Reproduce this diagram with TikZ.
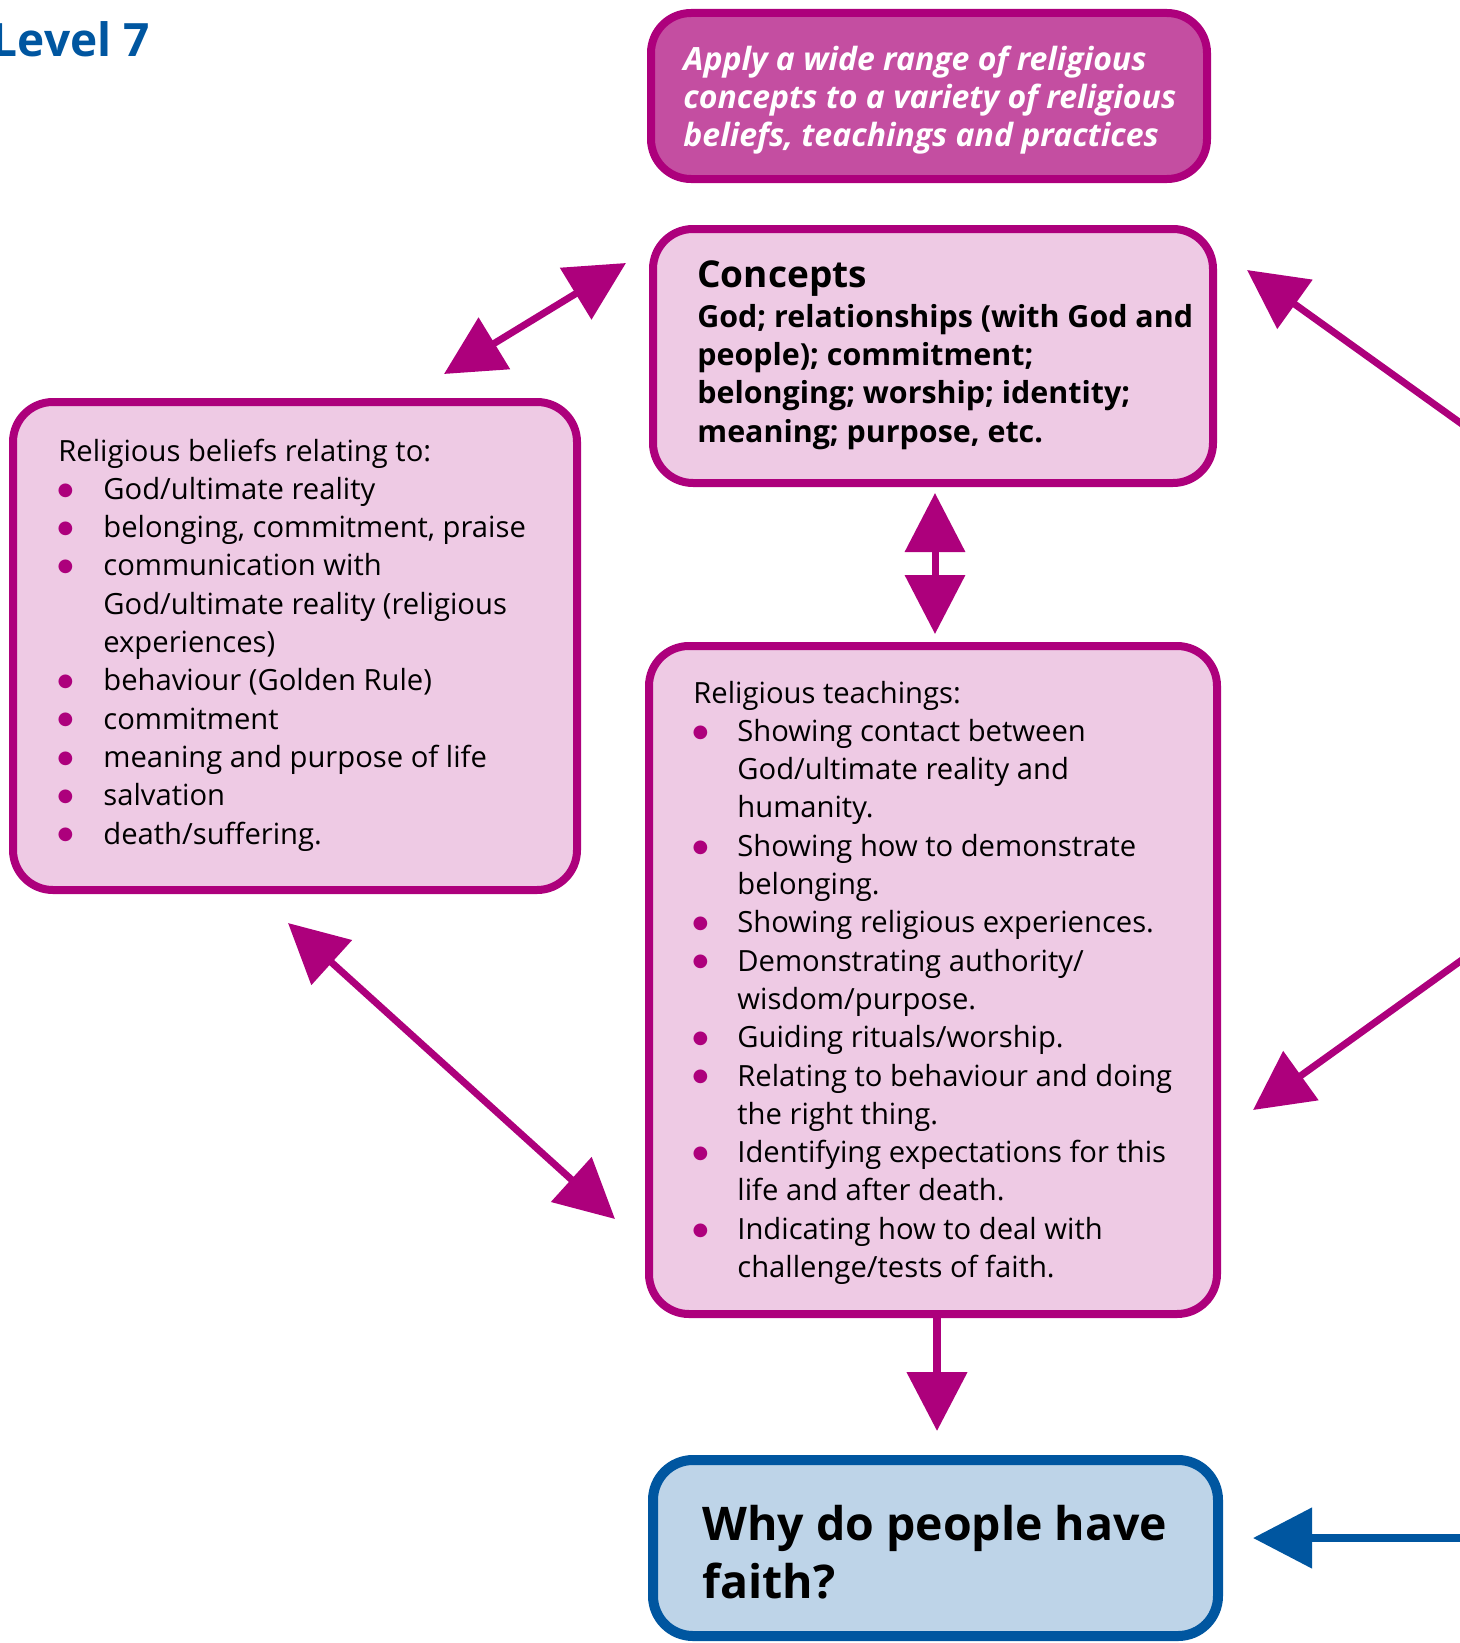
\documentclass[tikz,border=0pt]{standalone}
\usepackage{fontspec}
\setmainfont{Open Sans}
\newfontfamily\symfont{DejaVu Sans}
\usetikzlibrary{arrows.meta}
\definecolor{mag}{HTML}{AD007C}
\definecolor{topfill}{HTML}{C44EA1}
\definecolor{pinkfill}{HTML}{EECAE4}
\definecolor{bluedark}{HTML}{0056A0}
\definecolor{bluefill}{HTML}{BED4E8}
\newlength\itemind
\newcommand\bulletmark{\raisebox{2.1pt}{\symfont\fontsize{9}{9}\selectfont\textcolor{mag}{●}}}
\newcommand\bitem[1]{\par\noindent\hangindent=\itemind\hangafter=1\makebox[\itemind][l]{\makebox[7pt][c]{\bulletmark}}#1}
\tikzset{
  box/.style={draw=mag, line width=4pt, rounded corners=20pt, inner sep=0pt, fill=pinkfill},
  txt/.style={anchor=base west, inner sep=0pt},
  arr/.style={draw=mag, line width=3.5pt, -{Triangle[length=29.5pt,width=29.5pt]}},
  darr/.style={draw=mag, line width=3.5pt, {Triangle[length=29.5pt,width=29.5pt]}-{Triangle[length=29.5pt,width=29.5pt]}}
}
\begin{document}
\begin{tikzpicture}[x=0.5pt,y=-0.5pt]
\useasboundingbox (0,0) rectangle (1460,1643);
% boxes
\node[box, fill=topfill, minimum width=278pt, minimum height=83pt] (aim) at (929,96) {};
\node[box, minimum width=280pt, minimum height=127pt] (concepts) at (933,356) {};
\node[box, minimum width=282pt, minimum height=244pt] (beliefs) at (295,646) {};
\node[box, minimum width=284pt, minimum height=334pt] (teach) at (933,980) {};
\node[box, draw=bluedark, fill=bluefill, line width=5pt, minimum width=282.5pt, minimum height=88pt] (why) at (935.5,1548) {};
% texts
\node[anchor=base east, inner sep=0pt, text=bluedark] (level) at (150,57) {\fontsize{23}{28}\selectfont\bfseries Level 7};
\node[txt, text=white] (aimtext) at (683,71) {\vtop{\hsize=340pt\fontsize{16}{19}\selectfont\bfseries\itshape\noindent Apply a wide range of religious\\concepts to a variety of religious\\beliefs, teachings and practices}};
\node[txt] (contxt) at (697,287) {\vtop{\hsize=360pt\bfseries\fontsize{18.5}{22}\selectfont\noindent Concepts\par\fontsize{15.2}{19.15}\selectfont\vskip0.9pt\noindent God; relationships (with God and\\people); commitment;\\belonging; worship; identity;\\meaning; purpose, etc.}};
\node[txt] (beltxt) at (58,461) {\vtop{\hsize=320pt\fontsize{14.6}{19.15}\selectfont\setlength\itemind{22.5pt}\noindent Religious beliefs relating to:%
\bitem{God/ultimate reality}%
\bitem{belonging, commitment, praise}%
\bitem{communication with\\God/ultimate reality (religious\\experiences)}%
\bitem{behaviour (Golden Rule)}%
\bitem{commitment}%
\bitem{meaning and purpose of life}%
\bitem{salvation}%
\bitem{death/suffering.}}};
\node[txt] (teachtxt) at (693,703) {\vtop{\hsize=340pt\fontsize{14.6}{19.15}\selectfont\setlength\itemind{22pt}\noindent Religious teachings:%
\bitem{Showing contact between\\God/ultimate reality and\\humanity.}%
\bitem{Showing how to demonstrate\\belonging.}%
\bitem{Showing religious experiences.}%
\bitem{Demonstrating authority/\\wisdom/purpose.}%
\bitem{Guiding rituals/worship.}%
\bitem{Relating to behaviour and doing\\the right thing.}%
\bitem{Identifying expectations for this\\life and after death.}%
\bitem{Indicating how to deal with\\challenge/tests of faith.}}};
\node[txt] (whytxt) at (702,1540) {\vtop{\hsize=340pt\fontsize{23.2}{29}\selectfont\bfseries\noindent Why do people have\\faith?}};
% connectors
\coordinate (a1) at (444,374); \coordinate (a2) at (626,263);
\draw[darr] (a1) -- (a2);
\coordinate (b1) at (935,493); \coordinate (b2) at (935,634);
\draw[darr] (b1) -- (b2);
\coordinate (c1) at (288,923); \coordinate (c2) at (615,1219);
\draw[darr] (c1) -- (c2);
\coordinate (d1) at (1480,437); \coordinate (d2) at (1247,270);
\draw[arr] (d1) -- (d2);
\coordinate (e1) at (1480,947); \coordinate (e2) at (1253,1110);
\draw[arr] (e1) -- (e2);
\coordinate (f2) at (937,1431);
\draw[arr, line width=4pt] (teach.south -| f2) -- (f2);
\coordinate (g1) at (1480,1538); \coordinate (g2) at (1253,1538);
\draw[arr, draw=bluedark, line width=4pt] (g1) -- (g2);
\end{tikzpicture}
\end{document}
